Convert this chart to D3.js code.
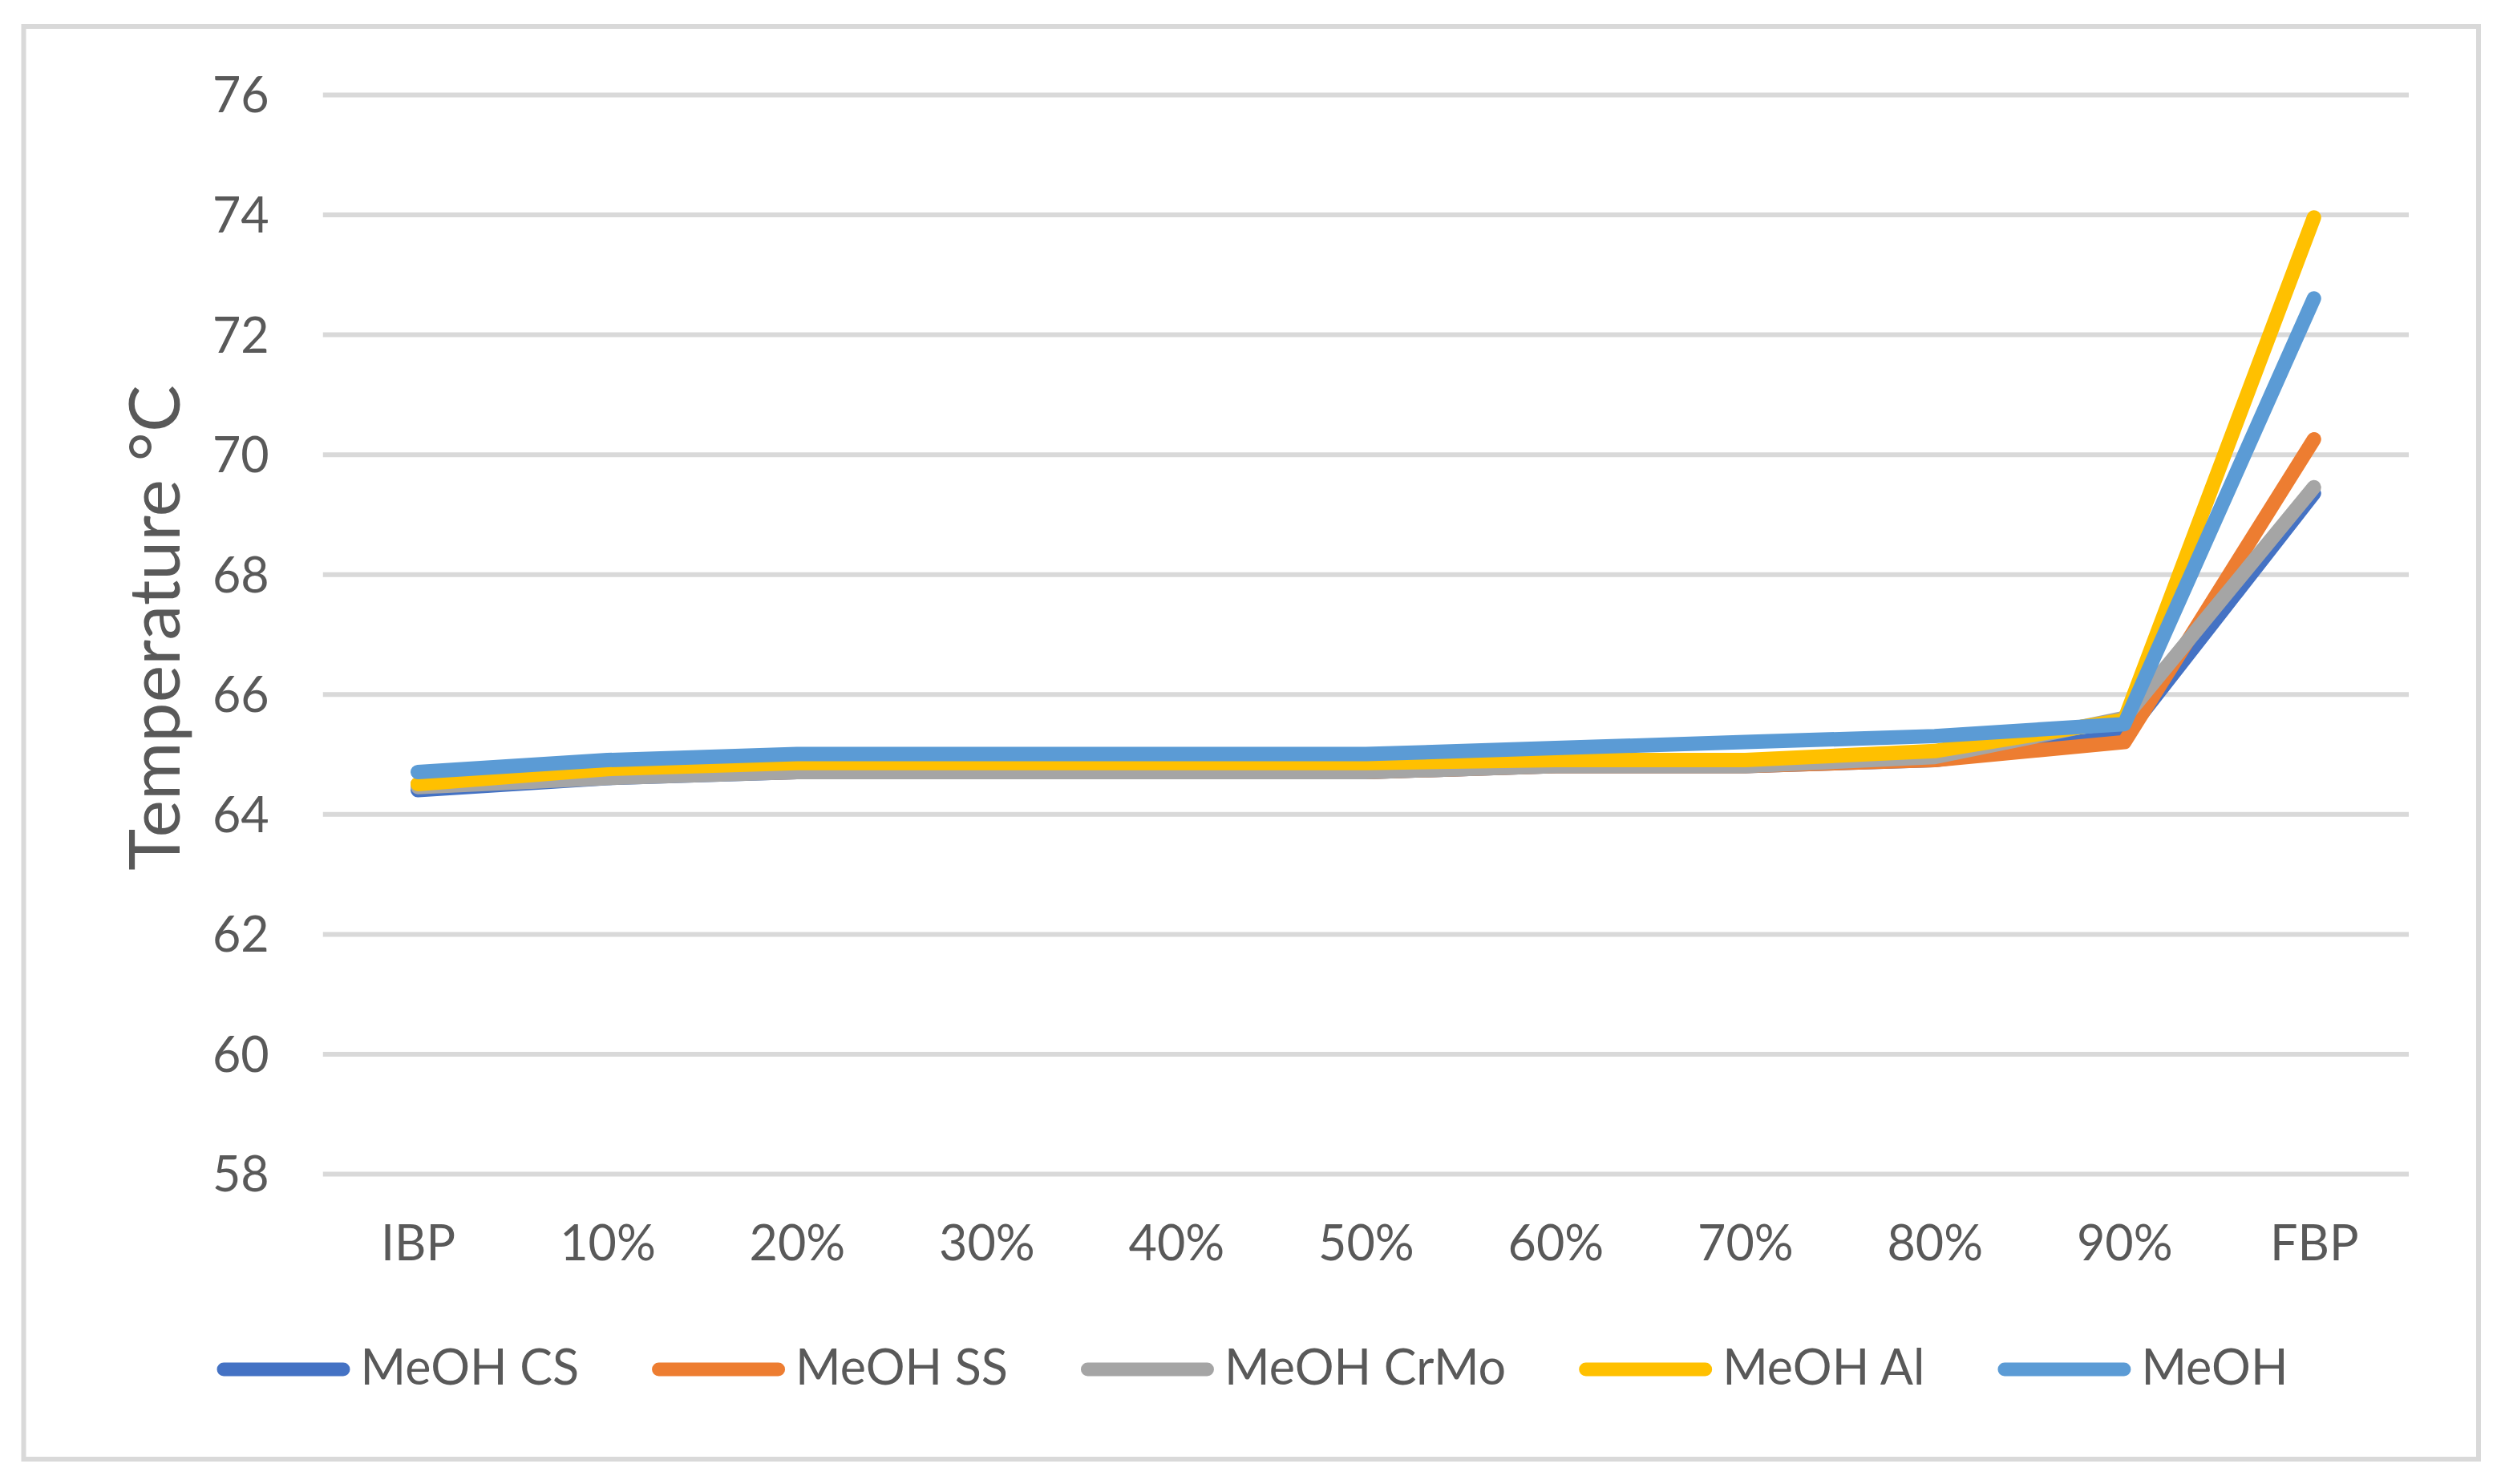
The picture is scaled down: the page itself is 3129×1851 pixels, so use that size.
<!DOCTYPE html>
<html><head><meta charset="utf-8">
<script src="https://cdn.jsdelivr.net/npm/d3@7"></script>
<style>html,body{margin:0;padding:0;background:#fff;} svg{display:block;}</style>
</head><body>
<svg id="chart" width="3129" height="1851"></svg>
<script>
const categories = ["IBP","10%","20%","30%","40%","50%","60%","70%","80%","90%","FBP"];
const seriesNames = ["MeOH CS","MeOH SS","MeOH CrMo","MeOH Al","MeOH"];
const meohCS   = [64.4, 64.6, 64.7, 64.7, 64.7, 64.7, 64.8, 64.8, 64.9, 65.3, 69.35];
const meohSS   = [64.5, 64.65,64.7, 64.7, 64.7, 64.7, 64.8, 64.8, 64.9, 65.2, 70.25];
const meohCrMo = [64.45,64.6, 64.7, 64.7, 64.7, 64.7, 64.8, 64.8, 64.95,65.6, 69.45];
const meohAl   = [64.5, 64.75,64.85,64.85,64.85,64.85,64.9, 64.9, 65.05,65.57,73.95];
const meoh     = [64.7, 64.9, 65.0, 65.0, 65.0, 65.0, 65.1, 65.2, 65.3, 65.5, 72.6];
const yTicks = [58,60,62,64,66,68,70,72,74,76];
const seriesColors = ["#4472C4","#ED7D31","#A5A5A5","#FFC000","#5B9BD5"];
const yTitle = "Temperature °C";

const seriesValues = [meohCS, meohSS, meohCrMo, meohAl, meoh];
const series = seriesNames.map((n,i)=>({name:n, color:seriesColors[i], values:seriesValues[i]}));

const W = 3129, H = 1851;
const plot = {left: 402.75, right: 3004, top: 118, bottom: 1464};
const FONT = "Lato, 'Open Sans', sans-serif";
const TXT = "#595959";

const svg = d3.select("#chart");
svg.append("rect").attr("x",0).attr("y",0).attr("width",W).attr("height",H).attr("fill","#fff");
svg.append("rect").attr("x",29.5).attr("y",33).attr("width",3061.5).attr("height",1787)
  .attr("fill","none").attr("stroke","#D9D9D9").attr("stroke-width",6);

const x = d3.scalePoint().domain(categories).range([plot.left, plot.right]).padding(0.5);
const y = d3.scaleLinear().domain([58,76]).range([plot.bottom, plot.top]);

// Y axis with gridlines
const yAxis = d3.axisLeft(y).tickValues(yTicks).tickFormat(d3.format("d"))
  .tickSize(-(plot.right-plot.left)).tickPadding(67);
const gy = svg.append("g").attr("transform",`translate(${plot.left},0)`).call(yAxis);
gy.select(".domain").remove();
gy.selectAll(".tick line").attr("stroke","#D9D9D9").attr("stroke-width",6);
gy.selectAll(".tick text").attr("fill",TXT).attr("font-family",FONT).attr("font-size",61).attr("dy","0.36em");

// X axis
const xAxis = d3.axisBottom(x).tickSize(0).tickPadding(64.7);
const gx = svg.append("g").attr("transform",`translate(0,${plot.bottom})`).call(xAxis);
gx.select(".domain").remove();
gx.selectAll(".tick text").attr("fill",TXT).attr("font-family",FONT).attr("font-size",61);

// Lines
const line = d3.line().x((d,i)=>x(categories[i])).y(d=>y(d));
svg.append("g").selectAll("path").data(series).join("path")
  .attr("d",d=>line(d.values)).attr("fill","none").attr("stroke",d=>d.color)
  .attr("stroke-width",18).attr("stroke-linejoin","round").attr("stroke-linecap","round");

// Y title
svg.append("text").attr("transform","translate(224,783) rotate(-90)")
  .attr("text-anchor","middle").attr("fill",TXT).attr("font-family",FONT).attr("font-size",88)
  .text(yTitle);

// Legend
const legLine = 166, legGap = 13, legSpace = 91, legY = 1708, legBase = 1727;
const lg = svg.append("g");
const items = lg.selectAll("g").data(series).join("g");
items.append("text").attr("fill",TXT).attr("font-family",FONT).attr("font-size",61)
  .attr("y",legBase).text(d=>d.name);
const widths = [];
items.each(function(){ widths.push(d3.select(this).select("text").node().getComputedTextLength()); });
const total = d3.sum(widths) + series.length*(legLine+legGap) + (series.length-1)*legSpace;
let cx = 1562 - total/2;
items.each(function(d,i){
  const g = d3.select(this);
  g.insert("line","text").attr("x1",cx+8.5).attr("x2",cx+legLine-8.5).attr("y1",legY).attr("y2",legY)
    .attr("stroke",d.color).attr("stroke-width",17).attr("stroke-linecap","round");
  g.select("text").attr("x",cx+legLine+legGap);
  cx += legLine+legGap+widths[i]+legSpace;
});
</script>
</body></html>
